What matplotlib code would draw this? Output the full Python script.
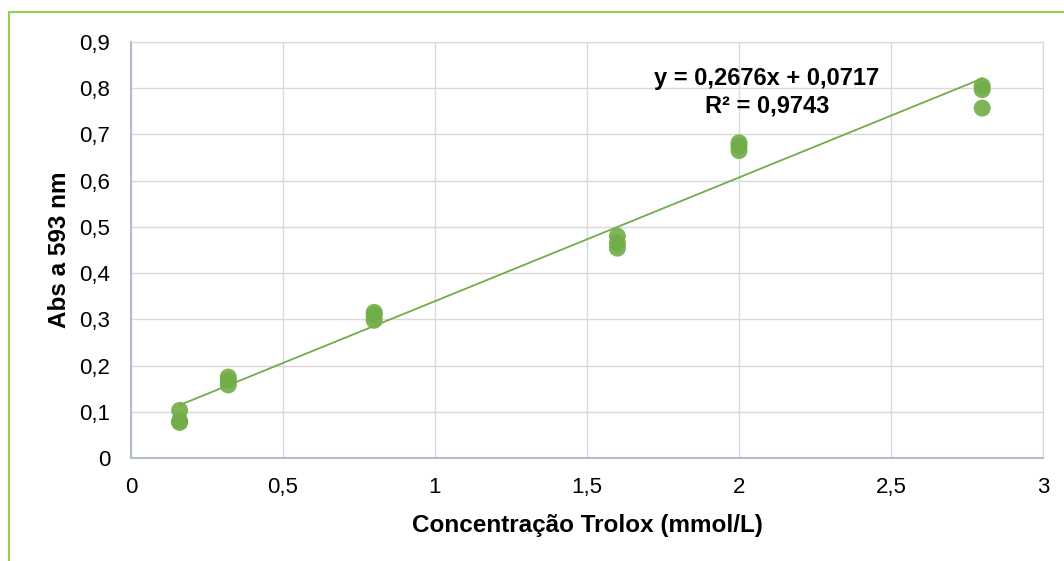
import numpy as np
import matplotlib.pyplot as plt
from matplotlib.patches import Rectangle

plt.rcParams['font.family'] = ['Liberation Sans', 'DejaVu Sans']

# Trolox concentration (mmol/L) and absorbance at 593 nm, triplicates
conc = [0.16, 0.16, 0.16, 0.32, 0.32, 0.32, 0.8, 0.8, 0.8,
        1.6, 1.6, 1.6, 2.0, 2.0, 2.0, 2.8, 2.8, 2.8]
absorb = [0.103, 0.080, 0.077, 0.175, 0.168, 0.158, 0.315, 0.309, 0.298,
          0.480, 0.465, 0.454, 0.682, 0.675, 0.665, 0.805, 0.797, 0.757]

# trendline coefficients as printed on the chart
slope = 0.2676
intercept = 0.0717
r2 = 0.9743

green = '#70ad47'

fig = plt.figure(figsize=(10.64, 5.61), dpi=100)
ax = fig.add_axes([131 / 1064, 1 - 458 / 561, 912 / 1064, 416 / 561])

ax.scatter(conc, absorb, s=150, color=green, alpha=0.9, edgecolors='none', zorder=3)

xl = np.array([min(conc), max(conc)])
ax.plot(xl, slope * xl + intercept, color=green, lw=1.3, zorder=2)

ax.set_xlim(0, 3)
ax.set_ylim(0, 0.9)
ax.set_xticks(np.arange(0, 3.01, 0.5))
ax.set_yticks(np.arange(0, 0.91, 0.1))
fmt = lambda v: ('%g' % round(v, 2)).replace('.', ',')
ax.set_xticklabels([fmt(v) for v in ax.get_xticks()])
ax.set_yticklabels([fmt(v) for v in ax.get_yticks()])
ax.tick_params(length=0, labelsize=16)
ax.tick_params(axis='x', pad=14)
ax.tick_params(axis='y', pad=15)
ax.grid(True, color='#d9d9d9', lw=1)
ax.set_axisbelow(True)
for s in ['top', 'right']:
    ax.spines[s].set_color('#d9d9d9')
for s in ['left', 'bottom']:
    ax.spines[s].set_color('#b4bccc')
    ax.spines[s].set_linewidth(1.5)

ax.set_xlabel('Concentração Trolox (mmol/L)', fontsize=17.5, fontweight='bold', labelpad=11)
ax.set_ylabel('Abs a 593 nm', fontsize=17.5, fontweight='bold', labelpad=6)

eq = 'y = %sx + %s' % (str(slope).replace('.', ','), str(intercept).replace('.', ','))
ax.text(2.092, 0.822, eq, ha='center', va='center', fontsize=17, fontweight='bold')
ax.text(2.092, 0.762, 'R² = ' + str(r2).replace('.', ','), ha='center', va='center',
        fontsize=17, fontweight='bold')

# green chart border
fig.patches.append(Rectangle((9 / 1064, -0.05), 1.1, 1 - 12 / 561 + 0.05,
                             transform=fig.transFigure, fill=False,
                             edgecolor='#92d050', lw=1.5))

fig.savefig('out.png', dpi=100)
